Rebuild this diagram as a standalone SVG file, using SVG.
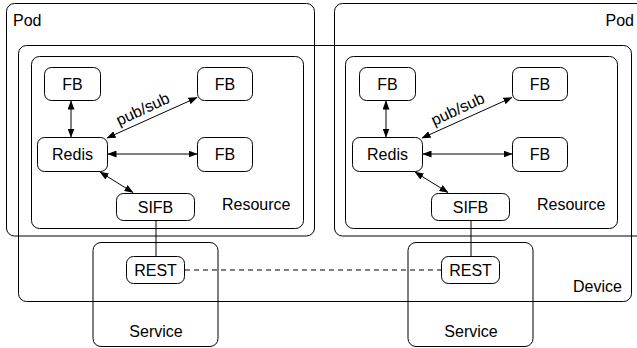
<svg xmlns="http://www.w3.org/2000/svg" width="637" height="348" viewBox="0 0 637 348">
<style>
.c{fill:none;stroke:#000;stroke-width:1}
.n{fill:#fff;stroke:#000;stroke-width:1}
text{font-family:"Liberation Sans",Arial,sans-serif;font-size:16px;fill:#000}
.m{text-anchor:middle}
.a{stroke:#000;stroke-width:1;fill:none;marker-start:url(#ah);marker-end:url(#ah)}
.d{stroke:#000;stroke-width:1;stroke-dasharray:5,4;fill:none}
</style>
<defs>
<marker id="ah" markerUnits="userSpaceOnUse" markerWidth="9" markerHeight="7" refX="8.5" refY="3.5" orient="auto-start-reverse">
<path d="M0,0 L9,3.5 L0,7 z" fill="#000"/>
</marker>
</defs>
<rect x="0" y="0" width="637" height="348" fill="#fff"/>
<g id="pod-left"><rect class="c" x="6.5" y="3.5" width="308" height="232.5" rx="8"/><text x="13" y="26">Pod</text></g>
<g id="pod-right"><rect class="c" x="334.5" y="3.5" width="312" height="232.5" rx="8"/><text x="634" y="26" text-anchor="end">Pod</text></g>
<g id="device"><rect class="c" x="18.5" y="45.5" width="613" height="256" rx="8"/><text x="573" y="292">Device</text></g>
<g id="resource-left"><rect class="c" x="31.5" y="56.5" width="272" height="172" rx="8"/><text x="222" y="210">Resource</text></g>
<g id="resource-right"><rect class="c" x="345.5" y="56.5" width="272" height="172" rx="8"/><text x="537" y="210">Resource</text></g>
<g id="service-left"><rect class="c" x="93" y="242.5" width="125" height="104" rx="8"/><text class="m" x="156" y="337">Service</text></g>
<g id="service-right"><rect class="c" x="408" y="242.5" width="125" height="104" rx="8"/><text class="m" x="471" y="337">Service</text></g>
<g id="connectors">
<line class="a" x1="71" y1="101" x2="71" y2="137"/>
<line class="a" x1="107" y1="138" x2="197" y2="97.5"/>
<line class="a" x1="108" y1="154" x2="197" y2="154"/>
<line class="a" x1="100" y1="172" x2="133" y2="192.5"/>
<line class="c" x1="156" y1="221" x2="156" y2="256"/>
<line class="a" x1="386" y1="101" x2="386" y2="137"/>
<line class="a" x1="422" y1="138" x2="512" y2="97.5"/>
<line class="a" x1="423" y1="154" x2="512" y2="154"/>
<line class="a" x1="415" y1="172" x2="448" y2="192.5"/>
<line class="c" x1="471" y1="221" x2="471" y2="256"/>
<line class="d" x1="185" y1="270" x2="442" y2="270"/>
<text x="145" y="114" class="m" transform="rotate(-25 145 114)">pub/sub</text>
<text x="460" y="114" class="m" transform="rotate(-25 460 114)">pub/sub</text>
</g>
<g id="fb1-left"><rect class="n" x="44.5" y="67.5" width="56" height="33" rx="7"/><text class="m" x="72.5" y="90">FB</text></g>
<g id="fb2-left"><rect class="n" x="197.5" y="67.5" width="55" height="33" rx="7"/><text class="m" x="225" y="90">FB</text></g>
<g id="redis-left"><rect class="n" x="37.5" y="137.5" width="70" height="34" rx="7"/><text class="m" x="72.5" y="160">Redis</text></g>
<g id="fb3-left"><rect class="n" x="197.5" y="137.5" width="55" height="34" rx="7"/><text class="m" x="225" y="160">FB</text></g>
<g id="sifb-left"><rect class="n" x="116.5" y="193.5" width="78" height="27" rx="7"/><text class="m" x="155.5" y="213">SIFB</text></g>
<g id="rest-left"><rect class="n" x="126.5" y="256.5" width="58" height="27" rx="7"/><text class="m" x="155.5" y="276">REST</text></g>
<g id="fb1-right"><rect class="n" x="359.5" y="67.5" width="56" height="33" rx="7"/><text class="m" x="387.5" y="90">FB</text></g>
<g id="fb2-right"><rect class="n" x="512.5" y="67.5" width="55" height="33" rx="7"/><text class="m" x="540" y="90">FB</text></g>
<g id="redis-right"><rect class="n" x="352.5" y="137.5" width="70" height="34" rx="7"/><text class="m" x="387.5" y="160">Redis</text></g>
<g id="fb3-right"><rect class="n" x="512.5" y="137.5" width="55" height="34" rx="7"/><text class="m" x="540" y="160">FB</text></g>
<g id="sifb-right"><rect class="n" x="431.5" y="193.5" width="78" height="27" rx="7"/><text class="m" x="470.5" y="213">SIFB</text></g>
<g id="rest-right"><rect class="n" x="441.5" y="256.5" width="58" height="27" rx="7"/><text class="m" x="470.5" y="276">REST</text></g>
</svg>
